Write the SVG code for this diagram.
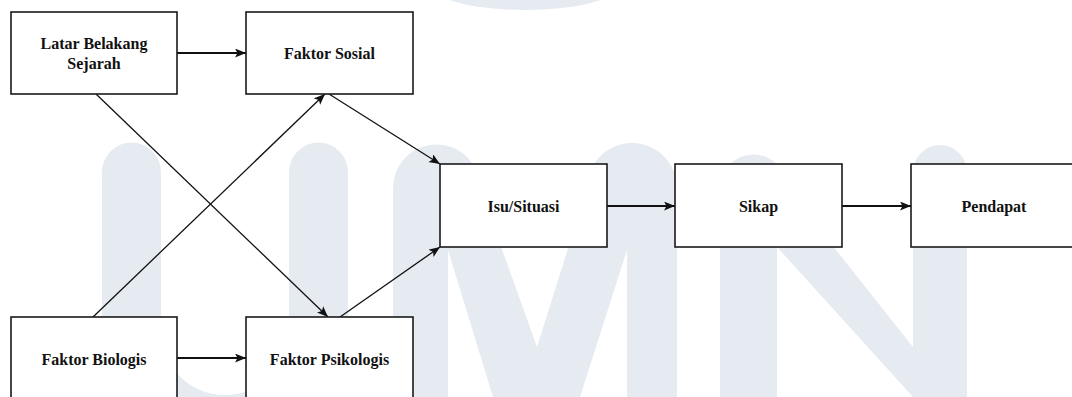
<svg xmlns="http://www.w3.org/2000/svg" width="1072" height="397" viewBox="0 0 1072 397">
<style>
.wm{fill:#e6ebf2;stroke:none}
.wms{fill:none;stroke:#e6ebf2;stroke-width:59;stroke-linecap:round}
.box{fill:#ffffff;stroke:#1a1a1a;stroke-width:1.6}
.lbl{font-weight:bold;font-size:16px;fill:#111;text-anchor:middle}
.c{fill:none;stroke:#111;stroke-width:1.3}
.h{fill:none;stroke:#111;stroke-width:2}
</style>
<defs>
<marker id="ah" markerUnits="userSpaceOnUse" markerWidth="12" markerHeight="10" refX="11" refY="4.5" orient="auto">
<path d="M0,0 L11,4.5 L0,9 L2.5,4.5 Z" fill="#111"/>
</marker>
</defs>
<rect width="1072" height="397" fill="#ffffff"/>
<g id="watermark">
<ellipse class="wm" cx="525" cy="-12" rx="90" ry="22"/>
<path class="wms" d="M131.5 172 V331 A93.5 93.5 0 0 0 318.5 331 V172"/>
<path class="wm" d="M393 397 V188 A43.5 43.5 0 0 1 480 188 L537 347 L587 188 A45 45 0 0 1 677 188 V397 H627 V250 L580 397 H493 L448 250 V397 Z"/>
<path class="wm" d="M720 397 V188 A33.5 33.5 0 0 1 787 188 L913 347 V172 A27 27 0 0 1 967 172 V397 H913 L777 247 V397 Z"/>
</g>
<g id="connectors">
<line class="h" x1="177" y1="53" x2="246" y2="53" marker-end="url(#ah)"/>
<line class="c" x1="96" y1="94" x2="328" y2="317" marker-end="url(#ah)"/>
<line class="c" x1="93" y1="317" x2="325" y2="94" marker-end="url(#ah)"/>
<line class="c" x1="329" y1="94" x2="440" y2="164" marker-end="url(#ah)"/>
<line class="c" x1="340" y1="317" x2="440" y2="247" marker-end="url(#ah)"/>
<line class="h" x1="177" y1="358" x2="246" y2="358" marker-end="url(#ah)"/>
<line class="h" x1="607" y1="206" x2="675" y2="206" marker-end="url(#ah)"/>
<line class="h" x1="842" y1="206" x2="911" y2="206" marker-end="url(#ah)"/>
</g>
<g font-family="'Liberation Serif', 'Times New Roman', 'DejaVu Serif', serif">
<g id="latar">
<rect class="box" x="11" y="12" width="166" height="82"/>
<text class="lbl" x="94" y="49">Latar Belakang</text>
<text class="lbl" x="94" y="68.5">Sejarah</text>
</g>
<g id="sosial">
<rect class="box" x="246" y="12" width="167" height="82"/>
<text class="lbl" x="329.5" y="58.5">Faktor Sosial</text>
</g>
<g id="biologis">
<rect class="box" x="11" y="317" width="166" height="84"/>
<text class="lbl" x="94" y="364.5">Faktor Biologis</text>
</g>
<g id="psikologis">
<rect class="box" x="246" y="317" width="167" height="84"/>
<text class="lbl" x="329.5" y="364.5">Faktor Psikologis</text>
</g>
<g id="isu">
<rect class="box" x="440" y="164" width="167" height="83"/>
<text class="lbl" x="523.5" y="211.5">Isu/Situasi</text>
</g>
<g id="sikap">
<rect class="box" x="675" y="164" width="167" height="83"/>
<text class="lbl" x="758.5" y="211.5">Sikap</text>
</g>
<g id="pendapat">
<rect class="box" x="911" y="164" width="167" height="83"/>
<text class="lbl" x="994" y="211.5">Pendapat</text>
</g>
</g>
</svg>
